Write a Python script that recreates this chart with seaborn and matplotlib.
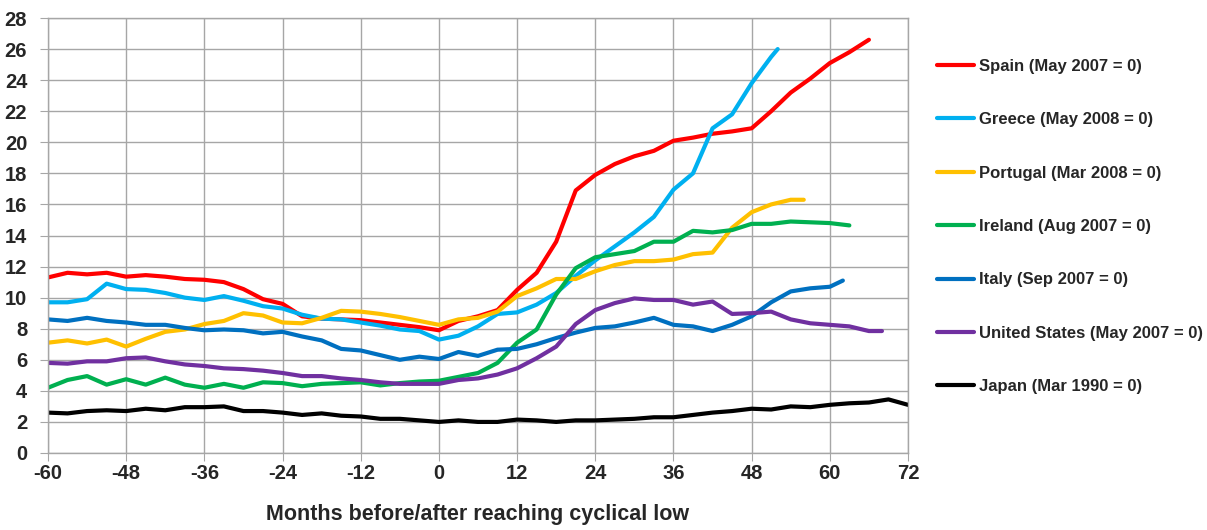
import numpy as np
import pandas as pd
import seaborn as sns
import matplotlib.pyplot as plt

# months relative to cyclical low, sampled every 3 months
step_months = list(range(-60, 73, 3))

spain = [11.3, 11.6, 11.5, 11.6, 11.35, 11.45, 11.35, 11.2, 11.15, 11.0, 10.55, 9.9, 9.6, 8.8, 8.65,
         8.6, 8.55, 8.4, 8.25, 8.1, 7.9, 8.5, 8.8, 9.2, 10.5, 11.6, 13.6, 16.9, 17.9, 18.6, 19.1,
         19.45, 20.1, 20.3, 20.55, 20.7, 20.9, 22.0, 23.2, 24.1, 25.1, 25.8, 26.6]
greece = [9.7, 9.7, 9.9, 10.9, 10.55, 10.5, 10.3, 10.0, 9.85, 10.1, 9.8, 9.45, 9.3, 8.9, 8.65,
          8.6, 8.4, 8.2, 7.95, 7.85, 7.3, 7.55, 8.15, 8.95, 9.05, 9.55, 10.3, 11.4, 12.4, 13.3, 14.2,
          15.2, 16.95, 18.0, 20.9, 21.8, 23.8, 25.5, 26.0]
portugal = [7.1, 7.25, 7.05, 7.3, 6.85, 7.35, 7.8, 7.95, 8.3, 8.5, 9.0, 8.85, 8.4, 8.35, 8.7,
            9.15, 9.1, 8.95, 8.75, 8.5, 8.25, 8.6, 8.7, 9.1, 10.1, 10.6, 11.2, 11.2, 11.7, 12.1, 12.35,
            12.35, 12.45, 12.8, 12.9, 14.5, 15.5, 16.0, 16.3, 16.3]
ireland = [4.2, 4.7, 4.95, 4.4, 4.75, 4.4, 4.85, 4.4, 4.2, 4.45, 4.2, 4.55, 4.5, 4.3, 4.45,
           4.5, 4.55, 4.35, 4.5, 4.6, 4.65, 4.9, 5.15, 5.8, 7.1, 7.95, 10.2, 11.9, 12.6, 12.8, 13.0,
           13.6, 13.6, 14.3, 14.2, 14.35, 14.75, 14.75, 14.9, 14.85, 14.8, 14.65]
italy = [8.6, 8.5, 8.7, 8.5, 8.4, 8.25, 8.25, 8.05, 7.9, 7.95, 7.9, 7.7, 7.8, 7.5, 7.25,
         6.7, 6.6, 6.3, 6.0, 6.2, 6.05, 6.5, 6.25, 6.65, 6.7, 7.0, 7.4, 7.75, 8.05, 8.15, 8.4,
         8.7, 8.25, 8.15, 7.85, 8.25, 8.8, 9.7, 10.4, 10.6, 10.7, 11.1]
united_states = [5.8, 5.75, 5.9, 5.9, 6.1, 6.15, 5.9, 5.7, 5.6, 5.45, 5.4, 5.3, 5.15, 4.95, 4.95,
                 4.8, 4.7, 4.55, 4.45, 4.45, 4.45, 4.7, 4.8, 5.05, 5.45, 6.1, 6.85, 8.3, 9.2, 9.65, 9.95,
                 9.85, 9.85, 9.55, 9.75, 8.95, 9.0, 9.1, 8.6, 8.35, 8.25, 8.15, 7.85, 7.85]
japan = [2.6, 2.55, 2.7, 2.75, 2.7, 2.85, 2.75, 2.95, 2.95, 3.0, 2.7, 2.7, 2.6, 2.45, 2.55,
         2.4, 2.35, 2.2, 2.2, 2.1, 2.0, 2.1, 2.0, 2.0, 2.15, 2.1, 2.0, 2.1, 2.1, 2.15, 2.2,
         2.3, 2.3, 2.45, 2.6, 2.7, 2.85, 2.8, 3.0, 2.95, 3.1, 3.2, 3.25, 3.45, 3.1]

# last observed month when it falls off the 3-month grid
last_month = {"Greece (May 2008 = 0)": 52, "Portugal (Mar 2008 = 0)": 56,
              "Italy (Sep 2007 = 0)": 62, "United States (May 2007 = 0)": 68}

labels = ["Spain (May 2007 = 0)", "Greece (May 2008 = 0)", "Portugal (Mar 2008 = 0)",
          "Ireland (Aug 2007 = 0)", "Italy (Sep 2007 = 0)", "United States (May 2007 = 0)",
          "Japan (Mar 1990 = 0)"]
values = [spain, greece, portugal, ireland, italy, united_states, japan]
colors = ["#FF0000", "#00B0F0", "#FFC000", "#00B050", "#0070C0", "#7030A0", "#000000"]

rows = []
for lab, vals in zip(labels, values):
    if lab in last_month:
        months = step_months[:len(vals) - 1] + [last_month[lab]]
    else:
        months = step_months[:len(vals)]
    for m, v in zip(months, vals):
        rows.append({"month": m, "value": v, "series": lab})
df = pd.DataFrame(rows)

sns.set_style("white")
plt.rcParams['font.family'] = ['Liberation Sans', 'DejaVu Sans']
plt.rcParams['font.weight'] = 'bold'
plt.rcParams['axes.unicode_minus'] = False

fig = plt.figure(figsize=(12.07, 5.30), dpi=100)
ax = fig.add_axes([48 / 1207, 77 / 530, 860 / 1207, 435 / 530])

sns.lineplot(data=df, x="month", y="value", hue="series", hue_order=labels,
             palette=dict(zip(labels, colors)), linewidth=3, ax=ax, sort=True)

ax.set_xlim(-60, 72)
ax.set_ylim(0, 28)
ax.set_xticks(range(-60, 73, 12))
ax.set_yticks(range(0, 29, 2))
ax.grid(True, color="#A6A6A6", linewidth=1)
ax.set_axisbelow(True)
for sp in ax.spines.values():
    sp.set_color("#A6A6A6")
    sp.set_linewidth(1)
ax.tick_params(axis="both", direction="out", length=6, color="#A6A6A6",
               labelsize=14.5, left=True, bottom=True)
ax.tick_params(axis="y", pad=9)
ax.tick_params(axis="x", pad=2)
for t in ax.get_xticklabels() + ax.get_yticklabels():
    t.set_fontweight("bold")
ax.set_ylabel("")
ax.set_xlabel("Months before/after reaching cyclical low", fontsize=15.5, fontweight="bold", labelpad=15)

handles, labs = ax.get_legend_handles_labels()
ax.get_legend().remove()
leg = fig.legend(handles, labs, loc="upper left", bbox_to_anchor=(937 / 1207, 1 - 59 / 530),
                 frameon=False, fontsize=12, handlelength=2.25, handletextpad=0.25,
                 labelspacing=2.3, borderpad=0, borderaxespad=0)
for t in leg.get_texts():
    t.set_fontweight("bold")

fig.savefig("out.png", dpi=100)
